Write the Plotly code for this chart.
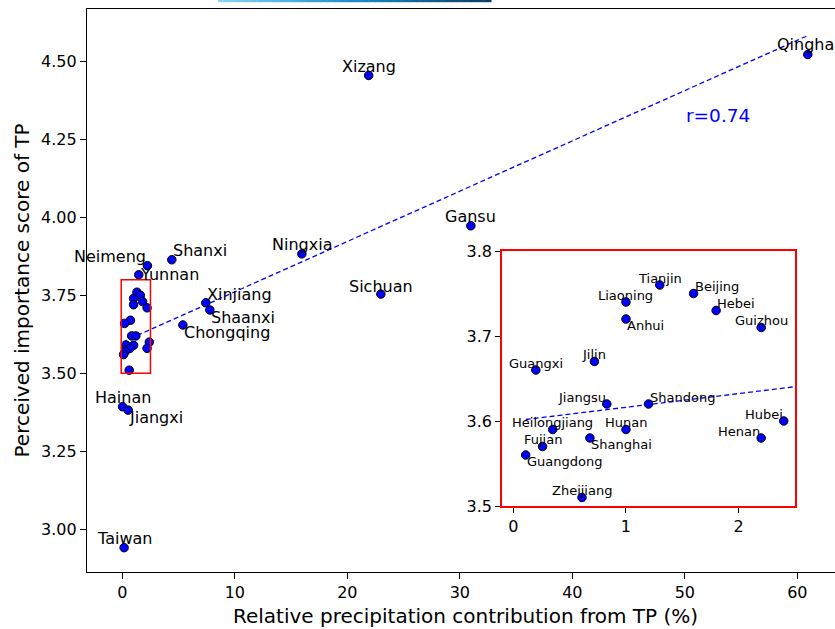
import plotly.graph_objects as go

# ---------------- data ----------------
main_names = ["Qinghai", "Xizang", "Gansu", "Ningxia", "Sichuan", "Shanxi", "Xinjiang",
              "Shaanxi", "Chongqing", "Neimeng", "Yunnan", "Hainan", "Jiangxi", "Taiwan"]
main_x = [60.93, 21.9, 30.98, 15.96, 22.98, 4.4, 7.42, 7.78, 5.38, 2.23, 1.46, 0.02, 0.52, 0.16]
main_y = [4.522, 4.455, 3.973, 3.883, 3.754, 3.864, 3.726, 3.703, 3.655, 3.845, 3.816, 3.393, 3.382, 2.941]

inset_names = ["Tianjin", "Beijing", "Liaoning", "Anhui", "Hebei", "Guizhou", "Jilin", "Guangxi",
               "Jiangsu", "Shandong", "Hubei", "Heilongjiang", "Hunan", "Henan", "Shanghai",
               "Fujian", "Guangdong", "Zheijiang"]
inset_x = [1.30, 1.60, 1.00, 1.00, 1.80, 2.20, 0.72, 0.20, 0.83, 1.20, 2.40, 0.35, 1.00, 2.20,
           0.68, 0.26, 0.11, 0.61]
inset_y = [3.76, 3.75, 3.74, 3.72, 3.73, 3.71, 3.67, 3.66, 3.62, 3.62, 3.60, 3.59, 3.59, 3.58,
           3.58, 3.57, 3.56, 3.51]

fit_intercept = 3.600
fit_slope = 0.01613
r_text = "r=0.74"

x_title = "Relative precipitation contribution from TP (%)"
y_title = "Perceived importance score of TP"

main_xticks = [0, 10, 20, 30, 40, 50, 60]
main_yticks = [3.00, 3.25, 3.50, 3.75, 4.00, 4.25, 4.50]
inset_xticks = [0, 1, 2]
inset_yticks = [3.5, 3.6, 3.7, 3.8]

# ---------------- label placement (anchor, vertical offset px) ----------------
main_place = {
    "Qinghai": ("center", 10), "Xizang": ("center", 9), "Gansu": ("center", 9),
    "Ningxia": ("center", 9), "Sichuan": ("center", 8), "Shanxi": ("left", 9),
    "Xinjiang": ("left", 8), "Shaanxi": ("left", -8), "Chongqing": ("left", -8),
    "Neimeng": ("right", 9), "Yunnan": ("left", 0), "Hainan": ("center", 9),
    "Jiangxi": ("left", -7), "Taiwan": ("center", 9),
}
inset_place = {
    "Tianjin": ("center", 7), "Beijing": ("left", 7), "Liaoning": ("center", 7),
    "Anhui": ("left", -6), "Hebei": ("left", 7), "Guizhou": ("center", 7),
    "Jilin": ("center", 7), "Guangxi": ("center", 7), "Jiangsu": ("right", 7),
    "Shandong": ("left", 7), "Hubei": ("right", 7), "Heilongjiang": ("center", 7),
    "Hunan": ("center", 7), "Henan": ("right", 7), "Shanghai": ("left", -6),
    "Fujian": ("center", 7), "Guangdong": ("left", -6), "Zheijiang": ("center", 7),
}

FONT = "DejaVu Sans"
all_x = main_x + inset_x
all_y = main_y + inset_y

inset_xrange = [-0.1, 2.5]
inset_yrange = [3.5, 3.8]

# plot-area geometry (pixels)
L, R, T, B = 87, 835, 9, 572
PW, PH = R - L, B - T

fig = go.Figure()

# main regression line
line_x = [min(all_x), max(all_x)]
fig.add_trace(go.Scatter(
    x=line_x, y=[fit_intercept + fit_slope * v for v in line_x],
    mode="lines", line=dict(color="#0000ff", width=1.3, dash="5px,3px"),
    xaxis="x", yaxis="y", showlegend=False, hoverinfo="skip"))

# main scatter
fig.add_trace(go.Scatter(
    x=all_x, y=all_y, mode="markers",
    marker=dict(color="#0000ff", size=8.5, line=dict(color="black", width=1)),
    xaxis="x", yaxis="y", showlegend=False))

# inset regression line
ins_line_x = [min(inset_x), inset_xrange[1]]
fig.add_trace(go.Scatter(
    x=ins_line_x, y=[fit_intercept + fit_slope * v for v in ins_line_x],
    mode="lines", line=dict(color="#0000ff", width=1.3, dash="5px,3px"),
    xaxis="x2", yaxis="y2", showlegend=False, hoverinfo="skip"))

# inset scatter
fig.add_trace(go.Scatter(
    x=inset_x, y=inset_y, mode="markers",
    marker=dict(color="#0000ff", size=8.5, line=dict(color="black", width=1)),
    xaxis="x2", yaxis="y2", showlegend=False))

annotations = []
for n, xv, yv in zip(main_names, main_x, main_y):
    anc, dy = main_place[n]
    annotations.append(dict(x=xv, y=yv, xref="x", yref="y", text=n, showarrow=False,
                            xanchor=anc, yanchor="middle", yshift=dy, borderpad=0,
                            font=dict(family=FONT, size=16, color="black")))
for n, xv, yv in zip(inset_names, inset_x, inset_y):
    anc, dy = inset_place[n]
    annotations.append(dict(x=xv, y=yv, xref="x2", yref="y2", text=n, showarrow=False,
                            xanchor=anc, yanchor="middle", yshift=dy, borderpad=0,
                            font=dict(family=FONT, size=13, color="black")))
annotations.append(dict(x=50.0, y=4.328, xref="x", yref="y", text=r_text, showarrow=False,
                        xanchor="left", yanchor="middle", borderpad=0,
                        font=dict(family=FONT, size=18.5, color="#0000ff")))
# axis titles
annotations.append(dict(x=(465 - L) / PW, y=0, xref="paper", yref="paper", text=x_title,
                        showarrow=False, xanchor="center", yanchor="middle", yshift=-(616 - B),
                        font=dict(family=FONT, size=20, color="black")))
annotations.append(dict(x=0, y=0.5, xref="paper", yref="paper", text=y_title, textangle=-90,
                        showarrow=False, xanchor="center", yanchor="middle", xshift=-(L - 21),
                        font=dict(family=FONT, size=20, color="black")))

# red box in main axes marking inset region
shapes = [dict(type="rect", xref="x", yref="y",
               x0=inset_xrange[0], x1=inset_xrange[1], y0=inset_yrange[0], y1=inset_yrange[1],
               line=dict(color="red", width=1.5), fillcolor="rgba(0,0,0,0)")]

# gradient strip at top edge (cropped colour bar)
stops = [(0.0, (0x8a, 0xd6, 0xf6)), (0.5, (0x1a, 0x8c, 0xc8)), (1.0, (0x0b, 0x3c, 0x62))]
nseg = 40
gx0, gx1 = 218, 491
for i in range(nseg):
    t = (i + 0.5) / nseg
    for k in range(len(stops) - 1):
        if stops[k][0] <= t <= stops[k + 1][0]:
            f = (t - stops[k][0]) / (stops[k + 1][0] - stops[k][0])
            c = tuple(int(stops[k][1][j] + f * (stops[k + 1][1][j] - stops[k][1][j])) for j in range(3))
            break
    xa = gx0 + (gx1 - gx0) * i / nseg
    xb = gx0 + (gx1 - gx0) * (i + 1) / nseg + 0.5
    shapes.append(dict(type="rect", xref="paper", yref="paper", layer="above",
                       x0=(xa - L) / PW, x1=(xb - L) / PW,
                       y0=(B - 2.2) / PH, y1=(B + 1) / PH,
                       line=dict(width=0), fillcolor="rgb(%d,%d,%d)" % c))

tickfont = dict(family=FONT, size=16, color="black")

fig.update_layout(
    width=835, height=629,
    margin=dict(l=L, r=835 - R, t=T, b=629 - B, autoexpand=False),
    plot_bgcolor="white", paper_bgcolor="white",
    font=dict(family=FONT, color="black"),
    xaxis=dict(range=[-3.14, 63.35], tickvals=main_xticks, ticks="outside", ticklen=6,
               tickwidth=1.2, tickcolor="black", showline=True, linecolor="black", linewidth=1.3,
               mirror=True, showgrid=False, zeroline=False, tickfont=tickfont, automargin=False),
    yaxis=dict(range=[2.863, 4.668], tickvals=main_yticks, ticktext=["%.2f" % v for v in main_yticks],
               ticks="outside", ticklen=6, tickwidth=1.2, tickcolor="black", showline=True,
               linecolor="black", linewidth=1.3, showgrid=False, zeroline=False, tickfont=tickfont,
               automargin=False),
    xaxis2=dict(domain=[(502 - L) / PW, (795 - L) / PW], anchor="y2", range=inset_xrange,
                tickvals=inset_xticks, ticks="outside", ticklen=5, tickwidth=1.2, tickcolor="black",
                showline=True, linecolor="red", linewidth=1.5, mirror=True, showgrid=False,
                zeroline=False, tickfont=tickfont, automargin=False),
    yaxis2=dict(domain=[(B - 506) / PH, (B - 251) / PH], anchor="x2", range=inset_yrange,
                tickvals=inset_yticks, ticktext=["%.1f" % v for v in inset_yticks], ticks="outside",
                ticklen=5, tickwidth=1.2, tickcolor="black", showline=True, linecolor="red",
                linewidth=1.5, mirror=True, showgrid=False, zeroline=False, tickfont=tickfont,
                automargin=False),
    annotations=annotations,
    shapes=shapes,
)

fig.write_html("out.html", config={"displayModeBar": False},
               post_script="document.body.style.margin='0';document.body.style.overflow='hidden';")
